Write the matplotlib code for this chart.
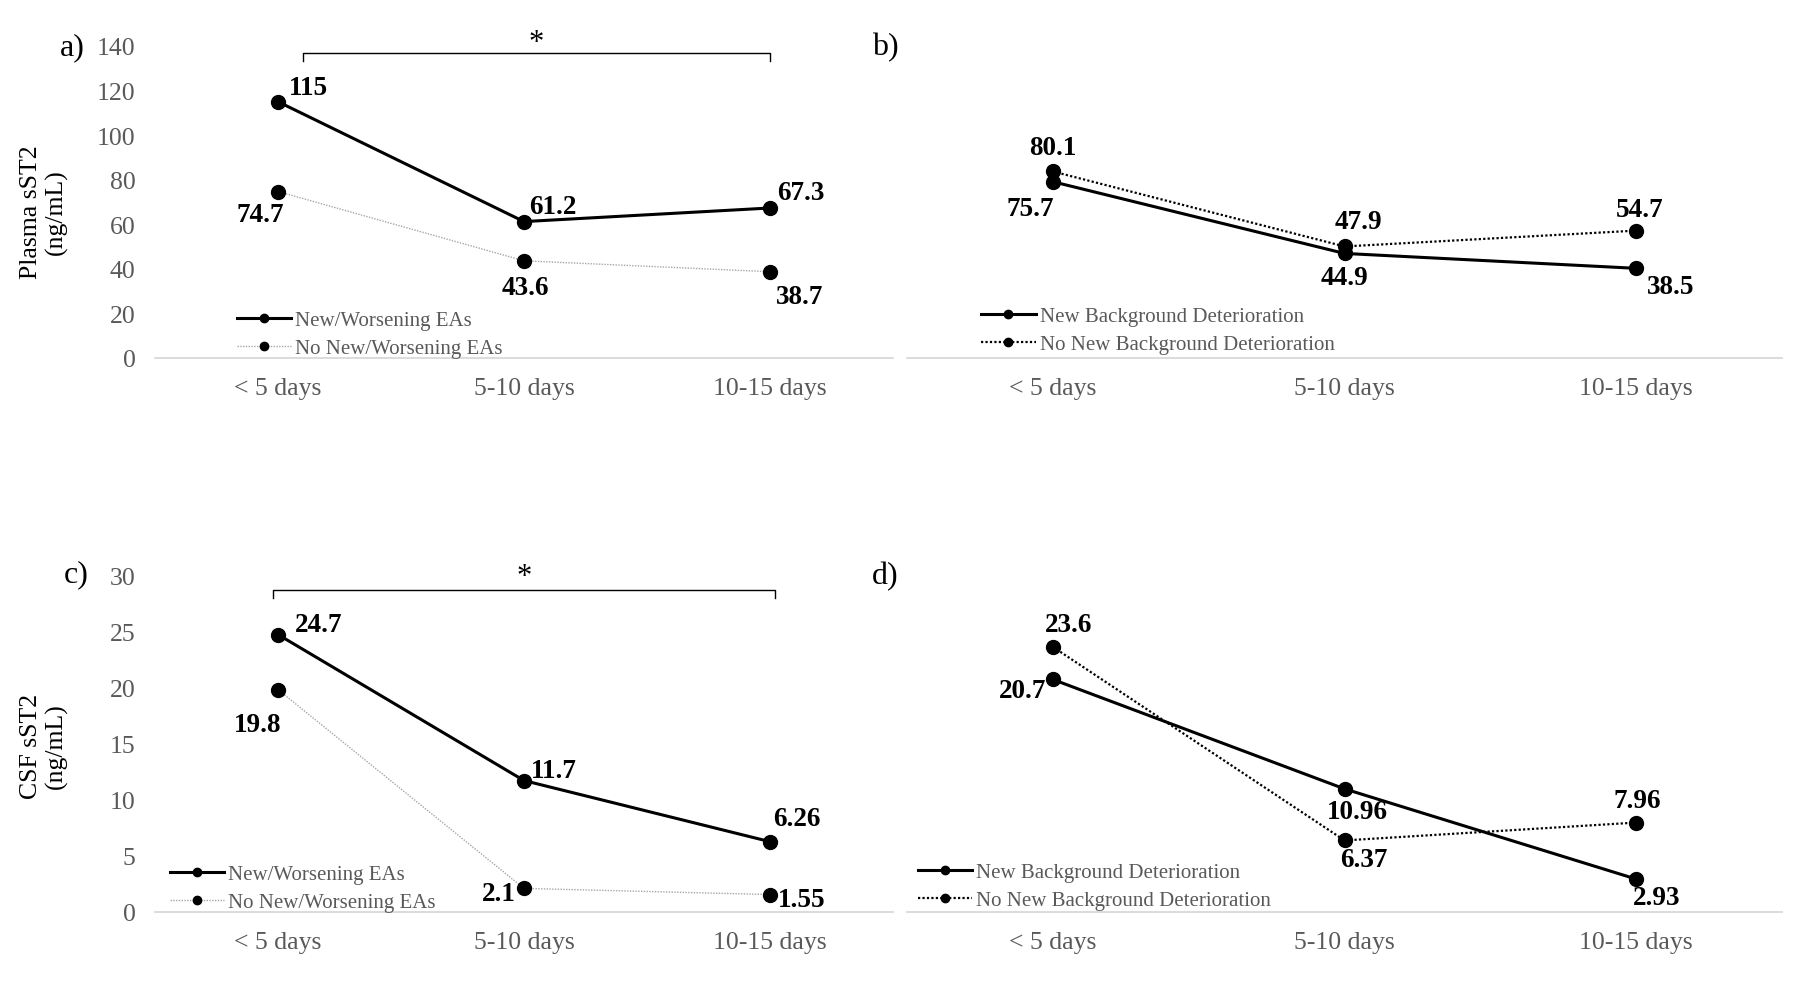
import matplotlib
matplotlib.use('Agg')
import matplotlib.pyplot as plt
import numpy as np

plt.rcParams['font.family'] = ['Liberation Serif', 'DejaVu Serif']

categories = ['< 5 days', '5-10 days', '10-15 days']

# plasma sST2 (ng/mL)
plasma_new_eas = [115, 61.2, 67.3]
plasma_no_eas = [74.7, 43.6, 38.7]
plasma_new_bd = [75.7, 44.9, 38.5]
plasma_no_bd = [80.1, 47.9, 54.7]

# CSF sST2 (ng/mL)
csf_new_eas = [24.7, 11.7, 6.26]
csf_no_eas = [19.8, 2.1, 1.55]
csf_new_bd = [20.7, 10.96, 2.93]
csf_no_bd = [23.6, 6.37, 7.96]

TICK_GRAY = '#595959'
AXIS_GRAY = '#d9d9d9'


def style_axis(ax, ymax, yticks=None):
    ax.set_xlim(-0.5, 2.5)
    ax.set_ylim(0, ymax)
    for s in ['top', 'right', 'left']:
        ax.spines[s].set_visible(False)
    ax.spines['bottom'].set_color(AXIS_GRAY)
    ax.spines['bottom'].set_linewidth(1.3)
    ax.set_xticks(range(len(categories)))
    ax.set_xticklabels(categories)
    ax.tick_params(axis='x', length=0, pad=14, labelsize=18.5, labelcolor=TICK_GRAY)
    if yticks is None:
        ax.set_yticks([])
    else:
        ax.set_yticks(yticks)
        ax.tick_params(axis='y', length=0, pad=14, labelsize=18.5, labelcolor=TICK_GRAY)


def label_points(ax, values, offsets):
    for i, (v, off) in enumerate(zip(values, offsets)):
        ax.annotate(str(v), (i, v), xytext=off, textcoords='offset points',
                    ha='center', va='center', fontsize=19.5, fontweight='bold')


def add_legend(ax, handles, labels, anchor):
    ax.legend(handles, labels, loc='lower left', bbox_to_anchor=anchor,
              frameon=False, fontsize=15, labelcolor=TICK_GRAY,
              handlelength=2.6, handletextpad=0.2, labelspacing=0.4,
              borderpad=0, borderaxespad=0, markerscale=0.6)


def draw_eas(ax, new_vals, no_vals):
    x = np.arange(len(categories))
    h1, = ax.plot(x, new_vals, color='black', lw=2.2, marker='o', ms=10, zorder=3)
    h2, = ax.plot(x, no_vals, color='#a6a6a6', lw=1, ls=(0, (1, 1)), marker='o',
                  ms=10, mfc='black', mec='black', zorder=3)
    return h1, h2


def draw_bd(ax, new_vals, no_vals):
    x = np.arange(len(categories))
    h1, = ax.plot(x, new_vals, color='black', lw=2.2, marker='o', ms=10, zorder=3)
    h2, = ax.plot(x, no_vals, color='black', lw=1.6, ls=(0, (1, 1)), marker='o',
                  ms=10, zorder=3)
    return h1, h2


def bracket(ax, x0, x1, y, drop, star_y):
    ax.plot([x0, x0, x1, x1], [y - drop, y, y, y - drop], color='black', lw=1, clip_on=False)
    ax.text((x0 + x1) / 2, star_y, '*', ha='center', va='center', fontsize=22, clip_on=False)


fig = plt.figure(figsize=(18, 9.87), dpi=100)
ax_a = fig.add_axes([0.0861, 0.6363, 0.410, 0.3161])
ax_b = fig.add_axes([0.5039, 0.6363, 0.4861, 0.3161])
ax_c = fig.add_axes([0.0861, 0.0750, 0.410, 0.3414])
ax_d = fig.add_axes([0.5039, 0.0750, 0.4861, 0.3414])

# a) plasma, EAs
style_axis(ax_a, 140, np.arange(0, 141, 20))
h1, h2 = draw_eas(ax_a, plasma_new_eas, plasma_no_eas)
label_points(ax_a, plasma_new_eas, [(22, 10), (21, 11), (22, 11.5)])
label_points(ax_a, plasma_no_eas, [(-13, -16.5), (1, -19), (21.5, -17.5)])
add_legend(ax_a, [h1, h2], ['New/Worsening EAs', 'No New/Worsening EAs'], (0.111, 0.0))
bracket(ax_a, 0.1, 2.0, 136.9, 3.6, 141.5)

# b) plasma, background deterioration
style_axis(ax_b, 134)
h1, h2 = draw_bd(ax_b, plasma_new_bd, plasma_no_bd)
label_points(ax_b, plasma_no_bd, [(0, 17), (10, 18), (2.5, 15)])
label_points(ax_b, plasma_new_bd, [(-16.5, -19), (0, -17), (25, -13)])
add_legend(ax_b, [h1, h2], ['New Background Deterioration', 'No New Background Deterioration'],
           (0.085, 0.012))

# c) CSF, EAs
style_axis(ax_c, 30, np.arange(0, 31, 5))
h1, h2 = draw_eas(ax_c, csf_new_eas, csf_no_eas)
label_points(ax_c, csf_new_eas, [(29, 7.5), (21.5, 7.5), (19, 17)])
label_points(ax_c, csf_no_eas, [(-15, -25.5), (-18, -4), (23, -3.5)])
add_legend(ax_c, [h1, h2], ['New/Worsening EAs', 'No New/Worsening EAs'], (0.02, 0.0))
bracket(ax_c, -0.02, 2.02, 28.66, 0.7, 29.9)

# d) CSF, background deterioration
style_axis(ax_d, 30)
h1, h2 = draw_bd(ax_d, csf_new_bd, csf_no_bd)
label_points(ax_d, csf_no_bd, [(11, 16), (14, -14), (1, 16)])
label_points(ax_d, csf_new_bd, [(-22, -8), (9.5, -16.5), (15, -13)])
add_legend(ax_d, [h1, h2], ['New Background Deterioration', 'No New Background Deterioration'],
           (0.0126, 0.006))

# y-axis titles and panel letters
fig.text(44 / 1800, 1 - 212 / 987, 'Plasma sST2\n(ng/mL)', rotation=90, ha='center',
         va='center', fontsize=18.5, multialignment='center')
fig.text(44 / 1800, 1 - 746 / 987, 'CSF sST2\n(ng/mL)', rotation=90, ha='center',
         va='center', fontsize=18.5, multialignment='center')
for letter, px, py in [('a)', 72, 48), ('b)', 885, 48), ('c)', 76, 575), ('d)', 885, 577)]:
    fig.text(px / 1800, 1 - py / 987, letter, ha='center', va='center', fontsize=23)

fig.savefig('out.png', dpi=100)
plt.close(fig)
